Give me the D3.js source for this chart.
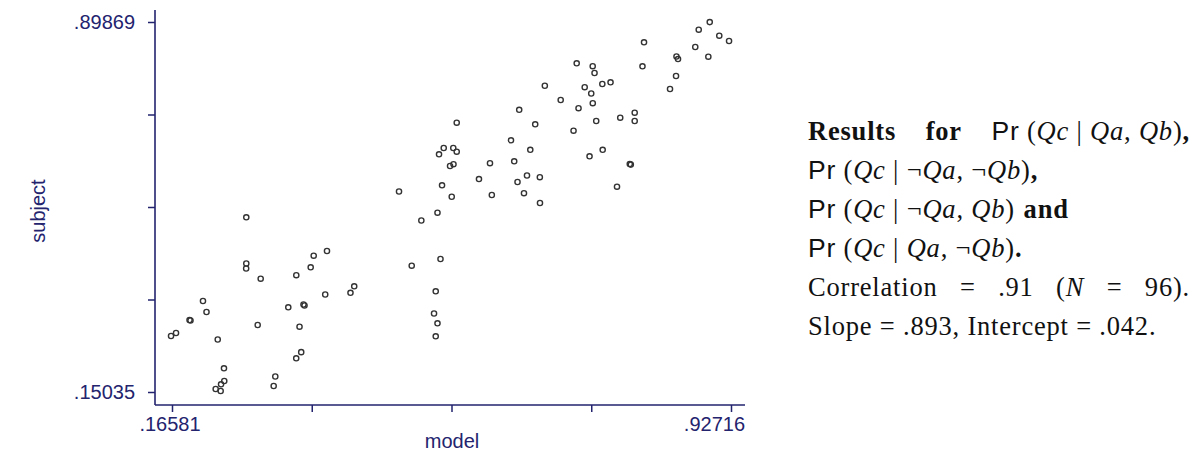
<!DOCTYPE html>
<html>
<head>
<meta charset="utf-8">
<script src="https://cdn.jsdelivr.net/npm/d3@7"></script>
<style>
  body { margin: 0; background: #fff; }
  text { white-space: pre; }
</style>
</head>
<body>
<svg width="1192" height="451"></svg>
<script>
// model vs subject values
const modelVals = [
  0.1645, 0.1713, 0.1897, 0.1910, 0.2080, 0.2128, 0.2281, 0.2366, 0.2370, 0.2326,
  0.2253, 0.2321, 0.2670, 0.2670, 0.2668, 0.2866, 0.2825, 0.3043, 0.3065, 0.3242,
  0.3449, 0.3463, 0.3351, 0.3395, 0.3547, 0.3588, 0.3769, 0.3745, 0.4089, 0.4140,
  0.3418, 0.3350, 0.4750, 0.4923, 0.5054, 0.5274, 0.5336, 0.5468, 0.5315, 0.5250,
  0.5227, 0.5274, 0.5250, 0.5295, 0.5359, 0.5489, 0.5536, 0.5445, 0.5492, 0.5536,
  0.5839, 0.5989, 0.6319, 0.6014, 0.6275, 0.6387, 0.6493, 0.6668, 0.6364, 0.6452,
  0.6670, 0.6538, 0.6605, 0.6736, 0.6952, 0.7170, 0.7388, 0.7413, 0.7279, 0.7519,
  0.7631, 0.7368, 0.7389, 0.7195, 0.7436, 0.7127, 0.7763, 0.7960, 0.7960, 0.7524,
  0.7345, 0.7893, 0.7907, 0.7719, 0.8087, 0.8066, 0.8529, 0.8550, 0.8523, 0.8441,
  0.8785, 0.8832, 0.8982, 0.8963, 0.9112, 0.9245
];
const subjectVals = [
  0.2636, 0.2697, 0.2960, 0.2950, 0.3344, 0.3122, 0.2565, 0.1983, 0.1726, 0.1659,
  0.1564, 0.1524, 0.5037, 0.4102, 0.4001, 0.3795, 0.2859, 0.1625, 0.1817, 0.3217,
  0.3273, 0.3253, 0.3866, 0.2824, 0.4026, 0.4260, 0.4355, 0.3475, 0.3510, 0.3641,
  0.2309, 0.2185, 0.5559, 0.4058, 0.4972, 0.5130, 0.5684, 0.5453, 0.4193, 0.3540,
  0.3091, 0.2893, 0.2630, 0.6311, 0.6438, 0.6438, 0.6364, 0.6074, 0.6111, 0.6950,
  0.5811, 0.6131, 0.6169, 0.5488, 0.6594, 0.7211, 0.5882, 0.5848, 0.5751, 0.5524,
  0.5326, 0.6402, 0.6918, 0.7698, 0.7409, 0.8152, 0.8093, 0.7955, 0.7668, 0.7733,
  0.7767, 0.7541, 0.7345, 0.7243, 0.6985, 0.6788, 0.7051, 0.7152, 0.6985, 0.6402,
  0.6271, 0.6115, 0.6103, 0.5656, 0.8576, 0.8091, 0.8289, 0.8238, 0.7895, 0.7632,
  0.8481, 0.8831, 0.8985, 0.8285, 0.8710, 0.8603
];
const xExtent = [0.16581, 0.92716];
const yExtent = [0.15035, 0.89869];
const tickCount = 5;

const svg = d3.select("svg");
const navy = "#23236e";
const axisFont = "'Liberation Sans', Arial, sans-serif";
const serif = "'Liberation Serif', 'Times New Roman', serif";

const x = d3.scaleLinear().domain(xExtent).range([172, 731]);
const y = d3.scaleLinear().domain(yExtent).range([392, 22]);

const ticksOf = ext => d3.range(tickCount).map(i => ext[0] + i * (ext[1] - ext[0]) / (tickCount - 1));
const fmt = d => d3.format(".5f")(d).replace(/^0/, "");

// axes
const xAxisG = svg.append("g")
  .attr("transform", "translate(0,405)")
  .call(d3.axisBottom(x).tickValues(ticksOf(xExtent)).tickSize(7).tickFormat(""));
const yAxisG = svg.append("g")
  .attr("transform", "translate(155,0)")
  .call(d3.axisLeft(y).tickValues(ticksOf(yExtent)).tickSize(7).tickFormat(""));

[xAxisG, yAxisG].forEach(g => {
  g.select(".domain").remove();
  g.selectAll(".tick line").attr("stroke", navy).attr("stroke-width", 1.5);
});

svg.append("line")
  .attr("x1", 155).attr("x2", 745).attr("y1", 405).attr("y2", 405)
  .attr("stroke", navy).attr("stroke-width", 1.6);
svg.append("line")
  .attr("x1", 155).attr("x2", 155).attr("y1", 10).attr("y2", 405)
  .attr("stroke", navy).attr("stroke-width", 1.6);

const labelStyle = sel => sel
  .attr("fill", navy)
  .attr("font-family", axisFont)
  .attr("font-size", 20);

svg.append("text").call(labelStyle)
  .attr("x", x(xExtent[0]) - 2).attr("y", 431)
  .attr("text-anchor", "middle")
  .text(fmt(xExtent[0]));
svg.append("text").call(labelStyle)
  .attr("x", 745).attr("y", 431)
  .attr("text-anchor", "end")
  .text(fmt(xExtent[1]));
svg.append("text").call(labelStyle)
  .attr("x", 135).attr("y", y(yExtent[1]) + 7)
  .attr("text-anchor", "end")
  .text(fmt(yExtent[1]));
svg.append("text").call(labelStyle)
  .attr("x", 135).attr("y", y(yExtent[0]) + 7)
  .attr("text-anchor", "end")
  .text(fmt(yExtent[0]));

svg.append("text").call(labelStyle)
  .attr("x", 452).attr("y", 448)
  .attr("text-anchor", "middle")
  .text("model");
svg.append("text").call(labelStyle)
  .attr("transform", "translate(45,211) rotate(-90)")
  .attr("text-anchor", "middle")
  .text("subject");

// points
svg.append("g")
  .selectAll("circle")
  .data(modelVals.map((m, i) => [m, subjectVals[i]]))
  .join("circle")
  .attr("cx", d => x(d[0]))
  .attr("cy", d => y(d[1]))
  .attr("r", 2.6)
  .attr("fill", "none")
  .attr("stroke", "#333")
  .attr("stroke-width", 1.4);

// caption text on the right
const styles = {
  b: { family: serif, weight: "bold", style: "normal" },
  r: { family: serif, weight: "normal", style: "normal" },
  i: { family: serif, weight: "normal", style: "italic" },
  s: { family: axisFont, weight: "normal", style: "normal" }
};
const cond = (neg1, neg2, end) => [
  ["Pr", "s"], [" (", "r"], ["Qc", "i"], [" | ", "r"],
  ...(neg1 ? [["¬", "r"]] : []), ["Qa", "i"], [", ", "r"],
  ...(neg2 ? [["¬", "r"]] : []), ["Qb", "i"], [")", "r"], ...end
];
const captionLines = [
  { justify: true, words: [[["Results", "b"]], [["for", "b"]], cond(false, false, [[",", "b"]])] },
  { justify: false, words: [cond(true, true, [[",", "b"]])] },
  { justify: false, words: [cond(true, false, []), [["and", "b"]]] },
  { justify: false, words: [cond(false, true, [[".", "b"]])] },
  { justify: true, words: [[["Correlation", "r"]], [["=", "r"]], [[".91", "r"]], [["(", "r"], ["N", "i"]], [["=", "r"]], [["96).", "r"]]] },
  { justify: false, words: [[["Slope = .893, Intercept = .042.", "r"]]] }
];
const capLeft = 808, capRight = 1190, capTop = 140, capStep = 39, capSize = 26.5;

captionLines.forEach((line, li) => {
  const yy = capTop + li * capStep;
  const nodes = line.words.map(word => {
    const t = svg.append("text")
      .attr("y", yy)
      .attr("font-size", capSize)
      .attr("letter-spacing", 0.8)
      .attr("fill", "#111");
    word.forEach(([txt, st]) => {
      const s = styles[st];
      t.append("tspan")
        .attr("font-family", s.family)
        .attr("font-weight", s.weight)
        .attr("font-style", s.style)
        .text(txt);
    });
    return t;
  });
  const widths = nodes.map(n => n.node().getComputedTextLength());
  const total = d3.sum(widths);
  const gap = line.justify && nodes.length > 1
    ? (capRight - capLeft - total) / (nodes.length - 1)
    : capSize * 0.33;
  let cx = capLeft;
  nodes.forEach((n, i) => {
    n.attr("x", cx);
    cx += widths[i] + gap;
  });
});
</script>
</body>
</html>
